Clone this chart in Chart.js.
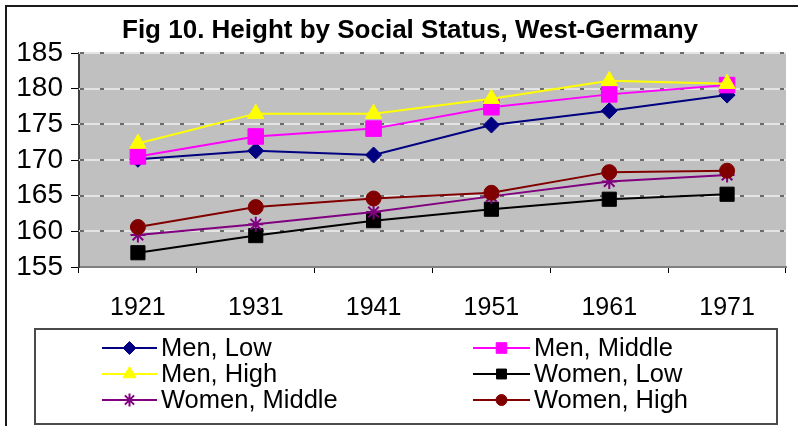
<!DOCTYPE html>
<html>
<head>
<meta charset="utf-8">
<script src="https://cdn.jsdelivr.net/npm/chart.js@4.4.0/dist/chart.umd.min.js"></script>
<style>
  html, body { margin: 0; padding: 0; background: #fff; }
  #wrap { width: 798px; height: 426px; position: relative; }
</style>
</head>
<body>
<div id="wrap"><canvas id="c" width="798" height="426"></canvas></div>
<script>
const categories = ['1921', '1931', '1941', '1951', '1961', '1971'];
const menLow      = [170.1, 171.3, 170.7, 174.9, 176.9, 179.1];
const menMiddle   = [170.5, 173.3, 174.4, 177.4, 179.2, 180.5];
const menHigh     = [172.3, 176.5, 176.5, 178.6, 181.1, 180.7];
const womenLow    = [157.0, 159.4, 161.5, 163.1, 164.5, 165.2];
const womenMiddle = [159.5, 161.0, 162.7, 164.9, 167.0, 167.9];
const womenHigh   = [160.6, 163.4, 164.6, 165.4, 168.3, 168.5];
const yTicks = [155, 160, 165, 170, 175, 180, 185];
const titleText = 'Fig 10. Height by Social Status, West-Germany';

const FONT = "'Liberation Sans', Arial, sans-serif";

function ds(label, data, color, style, radius, legendRadius, idx) {
  return {
    label, data,
    borderColor: color, backgroundColor: color,
    pointBackgroundColor: color, pointBorderColor: color,
    pointStyle: style, pointRadius: radius, pointHoverRadius: radius,
    pointBorderWidth: style === 'star' ? 2 : 1,
    legendRadius,
    borderWidth: 2, tension: 0, fill: false,
    order: 6 - idx
  };
}

const datasets = [
  ds('Men, Low', menLow, '#000080', 'rectRot', 8, 6.5, 0),
  ds('Men, Middle', menMiddle, '#FF00FF', 'rect', 11, 7.5, 1),
  ds('Men, High', menHigh, '#FFFF00', 'triangle', 9.5, 7.5, 2),
  ds('Women, Low', womenLow, '#000000', 'rect', 10, 7, 3),
  ds('Women, Middle', womenMiddle, '#800080', 'star', 7.5, 6.5, 4),
  ds('Women, High', womenHigh, '#800000', 'circle', 7.5, 5.5, 5)
];

const decor = {
  id: 'decor',
  beforeDraw(chart) {
    const ctx = chart.ctx, a = chart.chartArea;
    ctx.save();
    ctx.fillStyle = '#fff';
    ctx.fillRect(0, 0, chart.width, chart.height);
    ctx.strokeStyle = '#1a1a1a';
    ctx.lineWidth = 2;
    ctx.beginPath();
    ctx.moveTo(6, chart.height + 2);
    ctx.lineTo(6, 6);
    ctx.lineTo(chart.width + 2, 6);
    ctx.stroke();
    ctx.fillStyle = '#C0C0C0';
    ctx.fillRect(a.left, a.top, a.right - a.left, a.bottom - a.top);
    ctx.fillStyle = '#000';
    ctx.font = 'bold 26px ' + FONT;
    ctx.textAlign = 'center';
    ctx.textBaseline = 'alphabetic';
    ctx.fillText(titleText, 410, 38);
    ctx.restore();
  },
  beforeDatasetsDraw(chart) {
    const ctx = chart.ctx, a = chart.chartArea, ys = chart.scales.y;
    ctx.save();
    yTicks.forEach(v => {
      if (v <= ys.min) return;
      const y = Math.round(ys.getPixelForValue(v));
      ctx.lineWidth = 2;
      ctx.setLineDash([]);
      ctx.strokeStyle = '#E4E4E4';
      ctx.beginPath(); ctx.moveTo(a.left, y); ctx.lineTo(a.right, y); ctx.stroke();
      ctx.setLineDash([4, 16]);
      ctx.lineDashOffset = -1;
      ctx.strokeStyle = '#6A6A6A';
      ctx.beginPath(); ctx.moveTo(a.left, y); ctx.lineTo(a.right, y); ctx.stroke();
    });
    ctx.restore();
  },
  afterDraw(chart) {
    const ctx = chart.ctx;
    ctx.save();
    const bx = 35, by = 329, bw = 742, bh = 95;
    ctx.strokeStyle = '#4a4a4a';
    ctx.lineWidth = 2;
    ctx.strokeRect(bx, by, bw, bh);
    const cols = [{ x1: 102, x2: 157, tx: 161 }, { x1: 473, x2: 530, tx: 534 }];
    const rows = [348, 374, 400];
    ctx.font = '25.5px ' + FONT;
    ctx.textBaseline = 'middle';
    ctx.textAlign = 'left';
    chart.data.datasets.forEach((d, i) => {
      const c = cols[i % 2], y = rows[Math.floor(i / 2)];
      ctx.strokeStyle = d.borderColor;
      ctx.lineWidth = 2;
      ctx.setLineDash([]);
      ctx.beginPath(); ctx.moveTo(c.x1, y); ctx.lineTo(c.x2, y); ctx.stroke();
      ctx.fillStyle = d.pointBackgroundColor;
      ctx.strokeStyle = d.pointBorderColor;
      ctx.lineWidth = d.pointBorderWidth;
      Chart.helpers.drawPoint(ctx, {
        pointStyle: d.pointStyle, radius: d.legendRadius, borderWidth: d.pointBorderWidth, rotation: 0
      }, (c.x1 + c.x2) / 2, y);
      ctx.fillStyle = '#000';
      ctx.fillText(d.label, c.tx, y + 1);
    });
    ctx.restore();
  }
};

new Chart(document.getElementById('c'), {
  type: 'line',
  data: { labels: categories, datasets },
  options: {
    responsive: false,
    animation: false,
    devicePixelRatio: 1,
    layout: { padding: { top: 53, left: 0, right: 0, bottom: 0 } },
    plugins: { legend: { display: false }, title: { display: false }, tooltip: { enabled: false } },
    scales: {
      x: {
        type: 'category',
        offset: true,
        afterFit(s) { s.height = 426 - 267; },
        grid: { display: true, offset: true, drawOnChartArea: false, drawTicks: true, tickLength: 6, tickColor: '#000', tickWidth: 1 },
        border: { display: true, color: '#808080', width: 2 },
        ticks: { color: '#000', font: { family: FONT, size: 25 }, padding: 20, maxRotation: 0, autoSkip: false }
      },
      y: {
        min: 155, max: 185,
        afterFit(s) { s.width = 79; },
        afterBuildTicks(s) { s.ticks = yTicks.map(v => ({ value: v })); },
        grid: { display: true, drawOnChartArea: false, drawTicks: true, tickLength: 8, tickColor: '#000', tickWidth: 1 },
        border: { display: true, color: '#404040', width: 2 },
        ticks: { color: '#000', font: { family: FONT, size: 28 }, padding: 8, autoSkip: false }
      }
    }
  },
  plugins: [decor]
});
</script>
</body>
</html>
